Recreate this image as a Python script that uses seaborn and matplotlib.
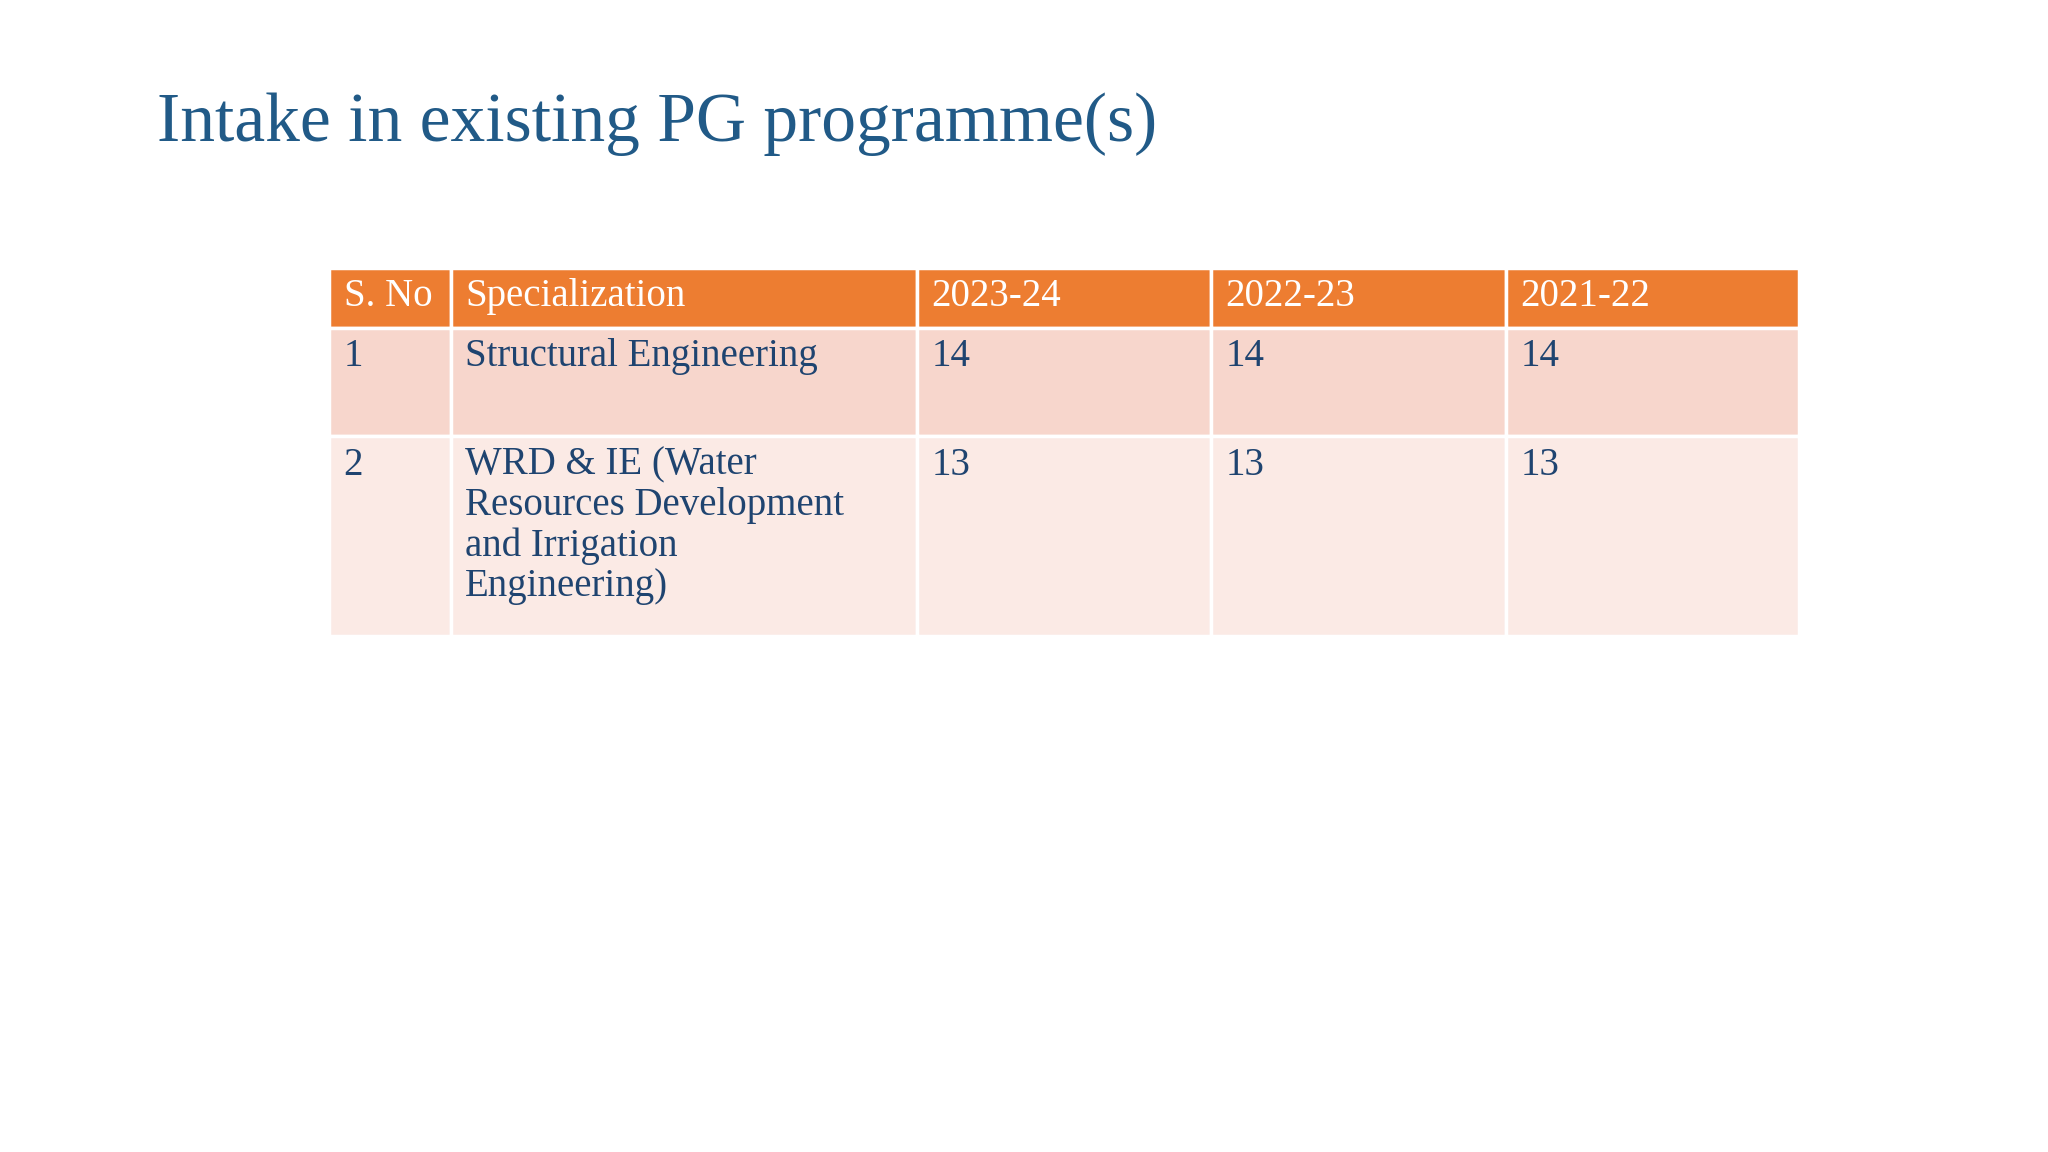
import matplotlib
matplotlib.use("Agg")
import matplotlib.pyplot as plt
from matplotlib.patches import Rectangle
import seaborn as sns

title = "Intake in existing PG programme(s)"
headers = ["S. No", "Specialization", "2023-24", "2022-23", "2021-22"]
sno = ["1", "2"]
specializations = ["Structural Engineering",
                   "WRD & IE (Water\nResources Development\nand Irrigation\nEngineering)"]
intake_2023_24 = [14, 13]
intake_2022_23 = [14, 13]
intake_2021_22 = [14, 13]

sns.set_theme(style="white")
fig = plt.figure(figsize=(20.48, 11.52), dpi=100)
ax = fig.add_axes([0, 0, 1, 1])
ax.set_xlim(0, 1568)
ax.set_ylim(882, 0)
ax.axis("off")

font = "Liberation Serif"
title_col = "#215A87"
text_col = "#1F4470"

ax.text(120, 108, title, fontsize=50, color=title_col, family=font, va="baseline")

col_edges = [252, 345, 702, 927, 1153, 1377]
row_edges = [205, 251, 334, 487]
row_colors = ["#ED7D31", "#F7D6CC", "#FBEAE5"]

rows = [headers]
for i in range(len(sno)):
    rows.append([sno[i], specializations[i], str(intake_2023_24[i]),
                 str(intake_2022_23[i]), str(intake_2021_22[i])])

for r, row in enumerate(rows):
    y0, y1 = row_edges[r], row_edges[r + 1]
    for c, val in enumerate(row):
        x0, x1 = col_edges[c], col_edges[c + 1]
        ax.add_patch(Rectangle((x0, y0), x1 - x0, y1 - y0, facecolor=row_colors[r],
                               edgecolor="white", linewidth=2.5))
        ax.text(x0 + 11, y0 + 8, val, fontsize=28, family=font,
                color="white" if r == 0 else text_col, va="top", ha="left",
                linespacing=1.12)

fig.savefig("out.png", dpi=100, facecolor="white")
